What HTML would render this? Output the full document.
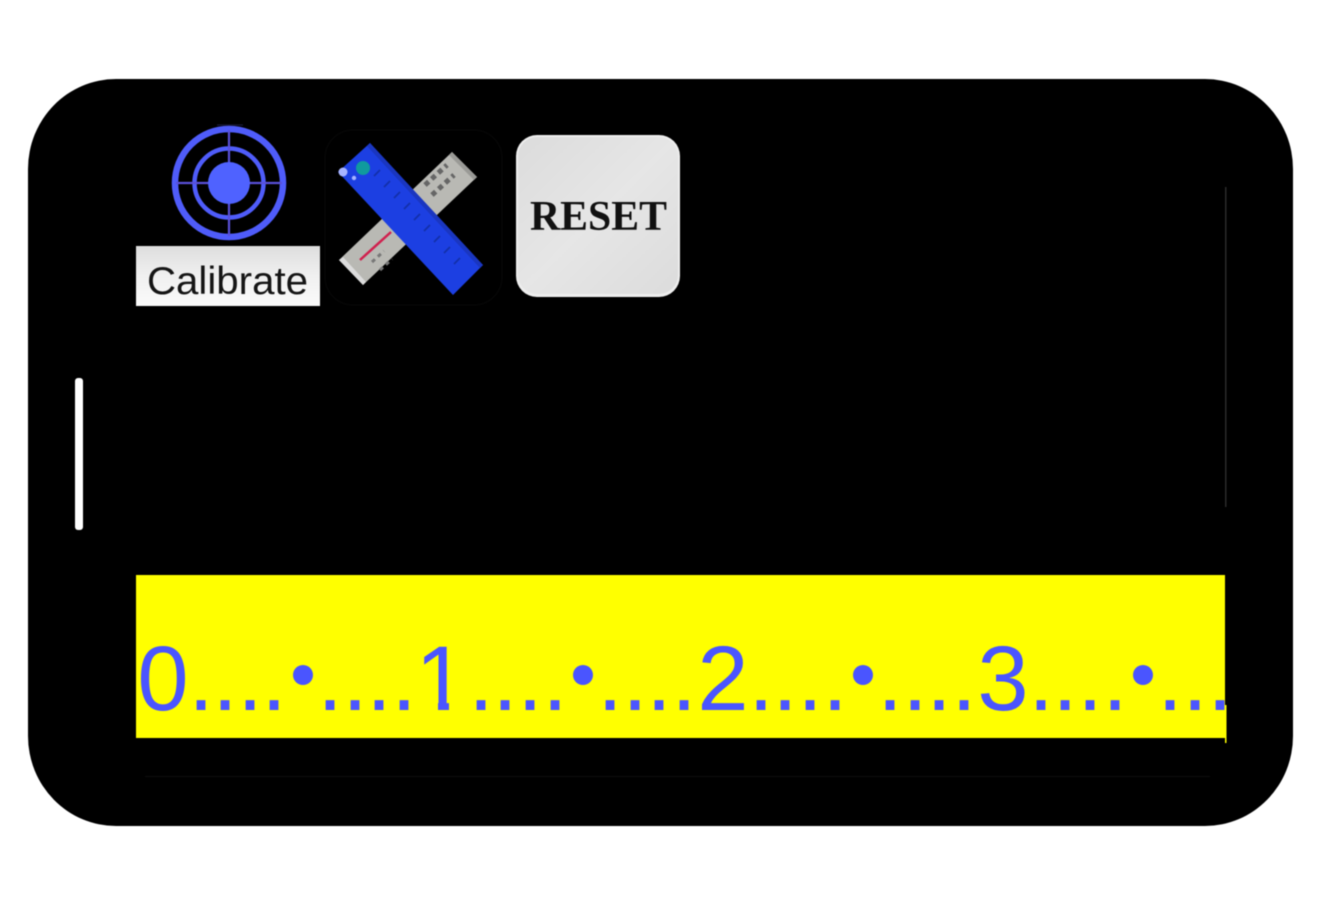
<!DOCTYPE html>
<html>
<head>
<meta charset="utf-8">
<title>Calibrate ruler</title>
<style>
html,body{margin:0;padding:0;background:#fff;width:1317px;height:900px;overflow:hidden}
svg{display:block;filter:blur(.6px)}
</style>
</head>
<body>
<svg width="1317" height="900" viewBox="0 0 1317 900" xmlns="http://www.w3.org/2000/svg">
<defs>
<linearGradient id="cal" x1="0" y1="0" x2="0" y2="1"><stop offset="0" stop-color="#dedede"/><stop offset=".5" stop-color="#f0f0f0"/><stop offset="1" stop-color="#fbfbfb"/></linearGradient>
<linearGradient id="rs" x1="0" y1="0" x2="1" y2="1"><stop offset="0" stop-color="#dcdcdc"/><stop offset=".5" stop-color="#e6e6e6"/><stop offset="1" stop-color="#dcdcdc"/></linearGradient>
<clipPath id="clipY"><rect x="136" y="575" width="1090" height="163"/></clipPath>
</defs>
<rect x="28" y="79" width="1265" height="747" rx="88" ry="90" fill="#000"/>

<!-- target -->
<line x1="217" y1="125" x2="243" y2="125" stroke="#1a1a3a" stroke-width="1.2"/>
<g fill="none" stroke="#4f5cfa">
<circle cx="229" cy="183" r="54" stroke-width="6.5"/>
<circle cx="229" cy="183" r="34.5" stroke-width="4.5"/>
<path d="M229 130V236M176 183H282" stroke-width="2.2" stroke="#5a50d8"/>
</g>
<circle cx="229" cy="183" r="21" fill="#4f62ff"/>

<!-- calibrate -->
<rect x="136" y="246" width="184" height="60" fill="url(#cal)"/>
<text x="147" y="294" font-family="Liberation Sans, sans-serif" font-size="39" fill="#151515" textLength="161" lengthAdjust="spacingAndGlyphs">Calibrate</text>

<!-- tools icon -->
<rect x="325" y="130" width="177" height="175" rx="28" fill="none" stroke="#060606" stroke-width="1.5"/>
<polygon points="452,152 477,177 363,285 339,260" fill="#b9b9b4"/>
<polygon points="339,260 363,285 366,282 343,257" fill="#dcdcdc"/>
<polygon points="452,152 477,177 474,180 449,155" fill="#9a9a96"/>
<path d="M425 185l22-20M432 195l22-20" stroke="#666" stroke-width="5" stroke-dasharray="5 4" fill="none"/>
<path d="M372 262l12-11M380 270l12-11" stroke="#777" stroke-width="3" stroke-dasharray="4 4" fill="none"/>
<line x1="360" y1="260" x2="391" y2="232" stroke="#d0204e" stroke-width="2.5"/>
<polygon points="370,143 483,265 453,295 338,172" fill="#1c3fe2"/>
<polygon points="370,143 483,265 480,268 367,146" fill="#1a36c0"/>
<path d="M380 170l-6 6M390 181l-6 6M400 192l-6 6M410 203l-6 6M420 214l-6 6M430 225l-6 6M440 236l-6 6M450 247l-6 6M460 258l-6 6" stroke="#1330a8" stroke-width="1.6"/>
<circle cx="363" cy="168" r="7" fill="#109a9e"/>
<circle cx="343" cy="172" r="4.5" fill="#a8b4ff"/>
<circle cx="354" cy="178" r="2.2" fill="#a8b4ff"/>

<!-- reset -->
<rect x="516" y="135" width="164" height="162" rx="21" fill="#eeeeee"/>
<rect x="518" y="137" width="160" height="157" rx="19" fill="url(#rs)"/>
<text x="530" y="230" font-family="Liberation Serif, serif" font-weight="bold" font-size="42" fill="#111" textLength="137" lengthAdjust="spacingAndGlyphs">RESET</text>

<!-- side marks -->
<rect x="75" y="378" width="8" height="152" rx="3" fill="#fff"/>
<rect x="1225" y="187" width="1.5" height="320" fill="#2a2a2a"/>
<rect x="145" y="776" width="1065" height="1" fill="#0e0e0e"/>

<!-- yellow bar -->
<rect x="136" y="575" width="1089" height="163" fill="#ffff00"/>
<rect x="1225" y="705" width="1.5" height="38" fill="#ffff00"/>
<g clip-path="url(#clipY)" fill="#4a55ff" font-family="Liberation Sans, sans-serif" font-size="92" text-anchor="middle">
<text y="710" x="163 201 225 250 274 330 355 379 404 441 481 505 530 555 610 635 659 684 723 761 785 810 835 890 915 939 964 1003 1041 1065 1090 1115 1170 1195 1220">0........1........2........3.......</text>
<rect x="414" y="701" width="24" height="12" fill="#ffff00"/>
<rect x="449" y="701" width="20" height="12" fill="#ffff00"/>
<circle cx="303" cy="675" r="10"/>
<circle cx="583" cy="675" r="10"/>
<circle cx="863" cy="675" r="10"/>
<circle cx="1143" cy="675" r="10"/>
</g>
</svg>
</body>
</html>
